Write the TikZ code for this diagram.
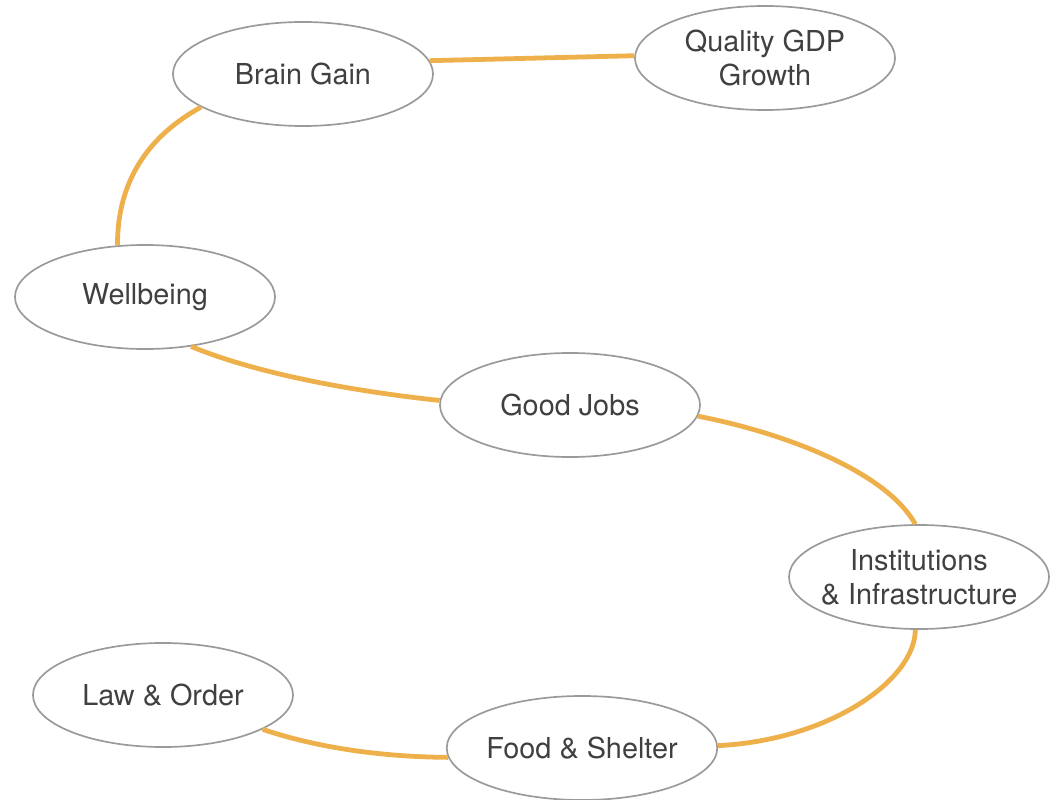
\documentclass[tikz,border=0pt]{standalone}
\usepackage{fontspec}
\setmainfont{TeX Gyre Heros}
\usepackage{tikz}
\usetikzlibrary{shapes.geometric}
\definecolor{lineorange}{HTML}{EDB04A}
\definecolor{rimgray}{HTML}{9A9A9A}
\definecolor{textgray}{HTML}{404040}
\tikzset{goal/.style = {ellipse, draw=rimgray, line width=1.2pt, fill=white,
                        text=textgray, align=center, inner sep=0,
                        minimum width=6.5cm, minimum height=2.6cm,
                        font=\fontsize{20.5}{24}\selectfont}}
\tikzset{link/.style = {draw=lineorange, line width=3.4pt}}

\begin{document}
\begin{tikzpicture}[x=0.025cm, y=-0.025cm]
    \useasboundingbox (0, 0) rectangle (1056, 800);

    \node [goal] (brain) at (303, 74) {Brain Gain};
    \node [goal] (gdp) at (765, 58) {Quality GDP\\Growth};
    \node [goal] (well) at (145, 297) {Wellbeing};
    \node [goal] (jobs) at (570, 405) {Good Jobs};
    \node [goal, inner xsep=-10pt] (inst) at (919, 577) {Institutions\\\& Infrastructure};
    \node [goal] (law) at (163, 695) {Law \& Order};
    \node [goal] (food) at (582, 748) {Food \& Shelter};

    \begin{scope}[on background layer/.try]
    \draw [link] (brain.6) -- (gdp.179);
    \draw [link] (brain.198) .. controls (150, 135) and (117, 180) .. (well.118);
    \draw [link] (well.-47) .. controls (260, 375) and (360, 392) .. (jobs.178);
    \draw [link] (jobs.-5) .. controls (780, 432) and (885, 470) .. (inst.94);
    \draw [link] (inst.266) .. controls (915, 680) and (830, 740) .. (food.1);
    \draw [link] (law.-19) .. controls (330, 752) and (400, 757) .. (food.184);
    \end{scope}
  \end{tikzpicture}
\end{document}
